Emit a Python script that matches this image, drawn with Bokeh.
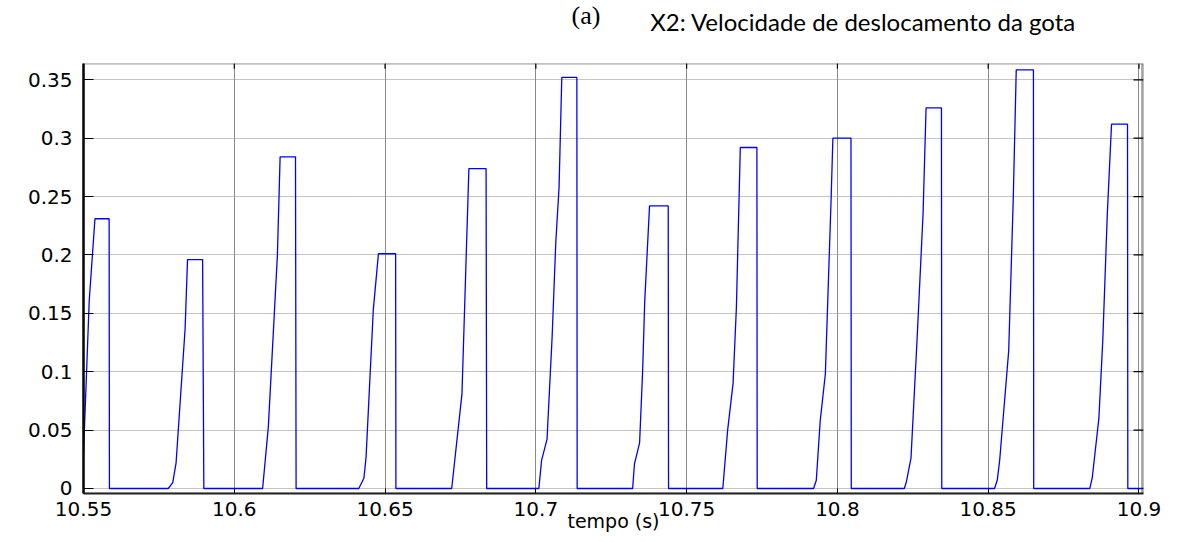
import math
from bokeh.plotting import figure
from bokeh.models import Range1d, FixedTicker, CustomJSTickFormatter, Label, BoxAnnotation
from bokeh.embed import file_html
from bokeh.resources import INLINE

# ---- data ----
time_s = [
    10.5500, 10.5519, 10.5538, 10.5585, 10.5586,
    10.5781, 10.5796, 10.5807, 10.5837, 10.5845, 10.5895, 10.5899,
    10.6094, 10.6113, 10.6143, 10.6152, 10.6203, 10.6205,
    10.6413, 10.6430, 10.6437, 10.6461, 10.6478, 10.6535, 10.6536,
    10.6721, 10.6755, 10.6778, 10.6835, 10.6837,
    10.7010, 10.7019, 10.7037, 10.7054, 10.7066, 10.7077, 10.7086, 10.7136, 10.7137,
    10.7321, 10.7327, 10.7344, 10.7354, 10.7361, 10.7377, 10.7439, 10.7440,
    10.7620, 10.7636, 10.7654, 10.7665, 10.7678, 10.7733, 10.7734,
    10.7921, 10.7930, 10.7943, 10.7960, 10.7979, 10.7985, 10.8045, 10.8046,
    10.8222, 10.8229, 10.8244, 10.8264, 10.8284, 10.8294, 10.8345, 10.8346,
    10.8521, 10.8530, 10.8538, 10.8568, 10.8583, 10.8593, 10.8650, 10.8651,
    10.8837, 10.8845, 10.8867, 10.8880, 10.8895, 10.8909, 10.8962, 10.8963,
    10.9015,
]
velocity = [
    0.030, 0.161, 0.231, 0.231, 0.0,
    0.0, 0.005, 0.022, 0.137, 0.196, 0.196, 0.0,
    0.0, 0.053, 0.200, 0.284, 0.284, 0.0,
    0.0, 0.009, 0.027, 0.153, 0.201, 0.201, 0.0,
    0.0, 0.081, 0.274, 0.274, 0.0,
    0.0, 0.024, 0.042, 0.130, 0.210, 0.258, 0.352, 0.352, 0.0,
    0.0, 0.021, 0.039, 0.100, 0.160, 0.242, 0.242, 0.0,
    0.0, 0.050, 0.090, 0.155, 0.292, 0.292, 0.0,
    0.0, 0.007, 0.058, 0.098, 0.247, 0.300, 0.300, 0.0,
    0.0, 0.006, 0.026, 0.127, 0.235, 0.326, 0.326, 0.0,
    0.0, 0.007, 0.024, 0.118, 0.247, 0.3585, 0.3585, 0.0,
    0.0, 0.009, 0.060, 0.127, 0.235, 0.312, 0.312, 0.0,
    0.0,
]
x_ticks = [10.55, 10.6, 10.65, 10.7, 10.75, 10.8, 10.85, 10.9]
x_tick_labels = ["10.55", "10.6", "10.65", "10.7", "10.75", "10.8", "10.85", "10.9"]
y_ticks = [0, 0.05, 0.1, 0.15, 0.2, 0.25, 0.3, 0.35]
y_tick_labels = ["0", "0.05", "0.1", "0.15", "0.2", "0.25", "0.3", "0.35"]
x_min, x_max = 10.55, 10.9015
y_min, y_max = -0.0043, 0.3637      # axes box
y_canvas_top = 0.4179               # extra head room used for the titles

title_text = "X2: Velocidade de deslocamento da gota"
panel_text = "(a)"
x_label = "tempo (s)"

# ---- figure ----
p = figure(width=1180, height=542,
           x_range=Range1d(x_min, x_max), y_range=Range1d(y_min, y_canvas_top),
           output_backend="svg", toolbar_location=None,
           min_border_left=83, min_border_right=37, min_border_top=0, min_border_bottom=49)
p.outline_line_color = None
p.background_fill_color = "white"
p.border_fill_color = "white"

code = """
let i = 0, b = 1e9;
for (let k = 0; k < tvals.length; k++) {
  const d = Math.abs(tvals[k] - tick);
  if (d < b) { b = d; i = k; }
}
return tlabs[i];
"""
xfmt = CustomJSTickFormatter(args=dict(tvals=x_ticks, tlabs=x_tick_labels), code=code)
yfmt = CustomJSTickFormatter(args=dict(tvals=y_ticks, tlabs=y_tick_labels), code=code)

xa = p.xaxis[0]
xa.ticker = FixedTicker(ticks=x_ticks)
xa.formatter = xfmt
xa.major_tick_in = 5
xa.major_tick_out = 0
xa.minor_tick_line_color = None
xa.axis_line_color = "#222222"
xa.axis_line_width = 2
xa.major_tick_line_color = "black"
xa.major_label_text_font = "DejaVu Sans"
xa.major_label_text_font_size = "20px"
xa.major_label_text_color = "black"
xa.major_label_standoff = 8
xa.axis_label = x_label
xa.axis_label_text_font = "DejaVu Sans"
xa.axis_label_text_font_size = "19px"
xa.axis_label_text_font_style = "normal"
xa.axis_label_text_color = "black"
xa.axis_label_standoff = -9

ya = p.yaxis[0]
ya.ticker = FixedTicker(ticks=y_ticks)
ya.formatter = yfmt
ya.bounds = (y_min, y_max)
ya.major_tick_in = 10
ya.major_tick_out = 0
ya.minor_tick_line_color = None
ya.axis_line_color = "black"
ya.axis_line_width = 2.5
ya.major_tick_line_color = "black"
ya.major_label_text_font = "DejaVu Sans"
ya.major_label_text_font_size = "20px"
ya.major_label_text_color = "black"
ya.major_label_standoff = 11

p.xgrid.ticker = FixedTicker(ticks=x_ticks)
p.xgrid.cross_bounds = (y_min, y_max)
p.xgrid.grid_line_color = "#8a8a8a"
p.xgrid.grid_line_width = 1
p.ygrid.ticker = FixedTicker(ticks=y_ticks)
p.ygrid.grid_line_color = "#8a8a8a"
p.ygrid.grid_line_dash = "1 1"
p.ygrid.grid_line_width = 1

# axes box (top edge dark grey, right edge black)
p.add_layout(BoxAnnotation(left=x_min, right=x_max, bottom=y_min, top=y_max,
                           fill_alpha=0, line_color="#333333", line_width=1.8))
p.add_layout(BoxAnnotation(left=x_max, right=x_max, bottom=y_min, top=y_max,
                           fill_alpha=0, line_color="black", line_width=5))

# inward ticks on the top and right edges (box on)
p.ray(x=x_ticks, y=[y_max] * len(x_ticks), length=5, length_units="screen",
      angle=-math.pi / 2, line_color="black", line_width=1.2)
p.ray(x=[x_max] * len(y_ticks), y=y_ticks, length=10, length_units="screen",
      angle=math.pi, line_color="black", line_width=1.2)

p.line(time_s, velocity, line_color="#0000ff", line_width=1.3)

p.add_layout(Label(x=10.7379, y=0.3999, text=title_text, text_font="Lato",
                   text_font_size="24px", text_color="black", text_baseline="alphabetic"))
p.add_layout(Label(x=10.7166, y=0.4050, text=panel_text, text_font="Liberation Serif",
                   text_font_size="26px", text_color="black", text_align="center",
                   text_baseline="alphabetic"))

open("out.html", "w").write(file_html(p, INLINE))
